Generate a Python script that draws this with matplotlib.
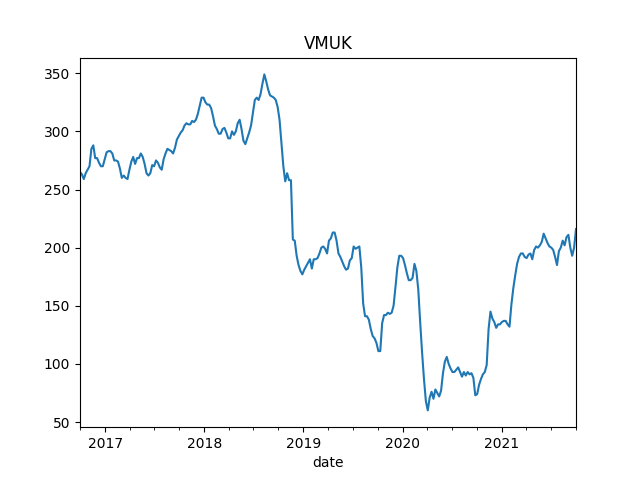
import matplotlib
matplotlib.use('Agg')
import matplotlib.pyplot as plt
import matplotlib.dates as mdates
import pandas as pd

# weekly closes
start_date = '2016-09-30'
end_date = '2021-10-01'
vmuk = [
    265, 263, 259, 264, 267, 270, 285, 288, 277, 277,
    273, 270, 270, 276, 282, 283, 283, 281, 275, 275,
    274, 268, 260, 262, 260, 259, 267, 274, 278, 272,
    277, 277, 281, 278, 272, 264, 262, 264, 271, 270,
    275, 273, 269, 267, 276, 281, 285, 284, 283, 281,
    286, 293, 296, 299, 301, 305, 307, 306, 306, 309,
    308, 310, 315, 322, 329, 329, 325, 323, 323, 320,
    313, 305, 302, 298, 298, 302, 303, 299, 294, 294,
    300, 297, 300, 307, 310, 302, 292, 289, 294, 299,
    305, 316, 327, 329, 327, 332, 341, 349, 343, 336,
    331, 330, 329, 327, 321, 310, 290, 270, 257, 264,
    258, 258, 207, 206, 193, 185, 180, 177, 181, 184,
    187, 190, 182, 190, 190, 191, 195, 200, 201, 199,
    195, 206, 208, 213, 213, 206, 195, 192, 188, 184,
    181, 182, 189, 191, 201, 199, 200, 201, 183, 152,
    141, 141, 138, 130, 124, 122, 118, 111, 111, 135,
    142, 142, 144, 143, 144, 150, 166, 183, 193, 193,
    191, 185, 178, 172, 172, 174, 186, 180, 164, 136,
    110, 87, 68, 60, 71, 76, 70, 78, 75, 72,
    77, 92, 102, 106, 100, 96, 93, 93, 95, 97,
    93, 89, 93, 90, 93, 91, 92, 88, 73, 74,
    82, 87, 91, 93, 99, 130, 145, 139, 136, 131,
    134, 134, 136, 137, 137, 134, 132, 151, 165, 176,
    186, 192, 195, 195, 192, 191, 194, 195, 190, 198,
    201, 200, 202, 205, 212, 208, 204, 201, 200, 198,
    192, 185, 197, 200, 206, 202, 209, 211, 200, 193,
    200, 216,
]

dates = pd.date_range(start_date, end_date, freq='W-FRI')

fig, ax = plt.subplots(figsize=(6.4, 4.8), dpi=100)
ax.plot(dates, vmuk, color='#1f77b4')
ax.set_xlim(dates[0], dates[-1])
ax.xaxis.set_major_locator(mdates.YearLocator())
ax.xaxis.set_major_formatter(mdates.DateFormatter('%Y'))
ax.xaxis.set_minor_locator(mdates.MonthLocator(bymonth=[1, 4, 7, 10]))
ax.set_title('VMUK')
ax.set_xlabel('date')
plt.savefig('out.png')
